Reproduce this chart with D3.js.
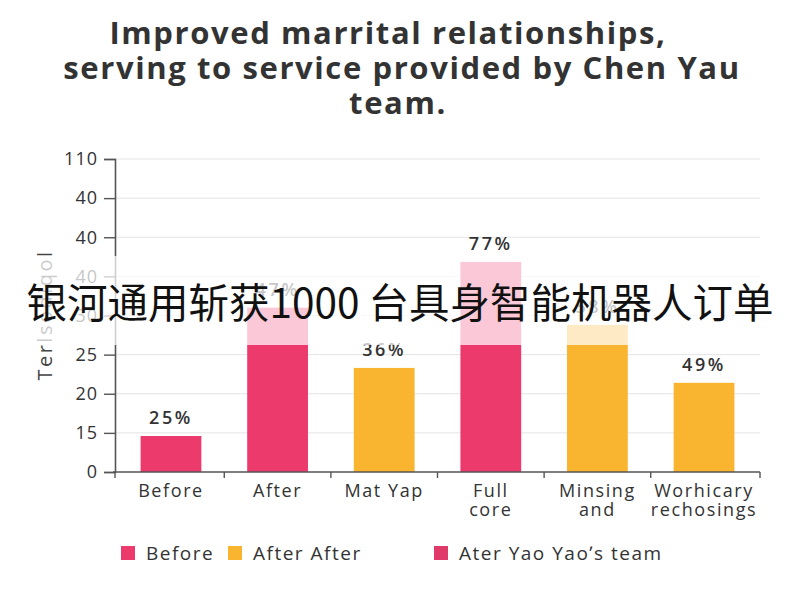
<!DOCTYPE html>
<html>
<head>
<meta charset="utf-8">
<script src="https://cdn.jsdelivr.net/npm/d3@7"></script>
<style>
  html, body { margin: 0; padding: 0; background: #fff; }
  svg { display: block; font-family: "Open Sans", "DejaVu Sans", sans-serif; }
</style>
</head>
<body>
<svg id="chart" width="800" height="600"></svg>
<script>
// ---- data ----
const titleLines = ["Improved marrital relationships,", "serving to service provided by Chen Yau", "team."];
const categories = ["Before", "After", "Mat Yap", "Full\ncore", "Minsing\nand", "Worhicary\nrechosings"];
const values = [9.2, 42, 26.6, 53.7, 37.6, 22.8];
const valueLabels = ["25%", "47%", "36%", "77%", "58%", "49%"];
const barSeries = ["Before", "Before", "After", "Before", "After", "After"];
const yTickValues = [0, 10, 20, 30, 40, 50, 60, 70, 80];
const yTickLabels = ["0", "15", "20", "25", "30", "40", "40", "40", "110"];
const legendItems = ["Before", "After After", "Ater Yao Yao\u02bcs team"];
const legendColors = ["#ec3a6c", "#f9b430", "#e03a6a"];
const seriesColors = { "Before": "#ec3a6c", "After": "#f9b430" };
const yAxisTitle = "Terlsodiqol";
const bannerText = "银河通用斩获1000 台具身智能机器人订单";

// ---- layout ----
const svg = d3.select("#chart");
const plot = { left: 115, right: 760, top: 159, bottom: 472 };

const x = d3.scaleBand().domain(categories).range([plot.left, plot.right]).paddingInner(0.43).paddingOuter(0.24);
const y = d3.scaleLinear().domain([0, 80]).range([plot.bottom, plot.top]);

// title
svg.append("g").selectAll("text").data(titleLines).join("text")
  .attr("x", (d, i) => [388, 402, 398][i]).attr("y", (d, i) => 44 + i * 35)
  .attr("text-anchor", "middle")
  .attr("font-size", 31).attr("font-weight", 700).attr("fill", "#333")
  .attr("letter-spacing", 1.6)
  .text(d => d);

// gridlines
svg.append("g").selectAll("line").data(yTickValues.slice(1)).join("line")
  .attr("x1", plot.left).attr("x2", plot.right)
  .attr("y1", d => y(d)).attr("y2", d => y(d))
  .attr("stroke", "#e4e4e4").attr("stroke-width", 1);

// y axis
const yAxis = d3.axisLeft(y).tickValues(yTickValues)
  .tickFormat((d, i) => yTickLabels[i]).tickSize(11).tickPadding(6);
const gy = svg.append("g").attr("transform", `translate(${plot.left},0)`).call(yAxis);
gy.select(".domain").attr("stroke", "#555").attr("stroke-width", 1.6);
gy.selectAll(".tick line").attr("stroke", "#555").attr("stroke-width", 1.4);
gy.selectAll(".tick text").attr("font-size", 18).attr("fill", "#333")
  .attr("letter-spacing", 1)
  .attr("font-family", "\"Open Sans\", sans-serif");

// y axis title
svg.append("text")
  .attr("transform", `translate(52,315) rotate(-90)`)
  .attr("text-anchor", "middle").attr("font-size", 20).attr("fill", "#444")
  .attr("letter-spacing", 2.5)
  .text(yAxisTitle);

// bars
svg.append("g").selectAll("rect").data(categories).join("rect")
  .attr("x", d => x(d)).attr("width", x.bandwidth())
  .attr("y", (d, i) => y(values[i]))
  .attr("height", (d, i) => y(0) - y(values[i]))
  .attr("fill", (d, i) => seriesColors[barSeries[i]]);

// value labels
svg.append("g").selectAll("text").data(categories).join("text")
  .attr("x", d => x(d) + x.bandwidth() / 2)
  .attr("y", (d, i) => y(values[i]) - 12)
  .attr("text-anchor", "middle").attr("font-size", 18).attr("font-weight", 600)
  .attr("fill", "#333").attr("letter-spacing", 2.6)
  .text((d, i) => valueLabels[i]);

// x axis
const gx = svg.append("g");
gx.append("line")
  .attr("x1", plot.left - 2).attr("x2", plot.right)
  .attr("y1", plot.bottom).attr("y2", plot.bottom)
  .attr("stroke", "#555").attr("stroke-width", 1.6);
const boundaries = [plot.left].concat(categories.map(c => x(c) + x.bandwidth() + x.step() * x.paddingInner() / 2));
boundaries[boundaries.length - 1] = plot.right;
gx.selectAll("line.tk").data(boundaries).join("line").attr("class", "tk")
  .attr("x1", d => d).attr("x2", d => d)
  .attr("y1", plot.bottom).attr("y2", plot.bottom + 6)
  .attr("stroke", "#555").attr("stroke-width", 1.4);
const xl = gx.selectAll("text").data(categories).join("text")
  .attr("x", d => x(d) + x.bandwidth() / 2).attr("y", 497)
  .attr("text-anchor", "middle").attr("font-size", 18).attr("fill", "#333")
  .attr("letter-spacing", 1.6);
xl.selectAll("tspan").data(d => d.split("\n")).join("tspan")
  .attr("x", function () { return d3.select(this.parentNode).attr("x"); })
  .attr("dy", (d, i) => i === 0 ? 0 : 19)
  .text(d => d);

// banner overlay
svg.append("rect").attr("x", 0).attr("y", 256).attr("width", 800).attr("height", 89)
  .attr("fill", "#fff").attr("opacity", 0.72);
svg.append("text").attr("x", 400).attr("y", 318)
  .attr("text-anchor", "middle").attr("font-size", 40.5).attr("fill", "#111")
  .attr("font-family", "\"Noto Sans CJK SC\", sans-serif")
  .text(bannerText);

// legend
const legendX = [121, 228, 434];
const lg = svg.append("g").selectAll("g").data(legendItems).join("g")
  .attr("transform", (d, i) => `translate(${legendX[i]},546)`);
lg.append("rect").attr("width", 14).attr("height", 14).attr("fill", (d, i) => legendColors[i]);
lg.append("text").attr("x", 25).attr("y", 14).attr("font-size", 19).attr("fill", "#333")
  .attr("letter-spacing", 1.5).text(d => d);
</script>
</body>
</html>
